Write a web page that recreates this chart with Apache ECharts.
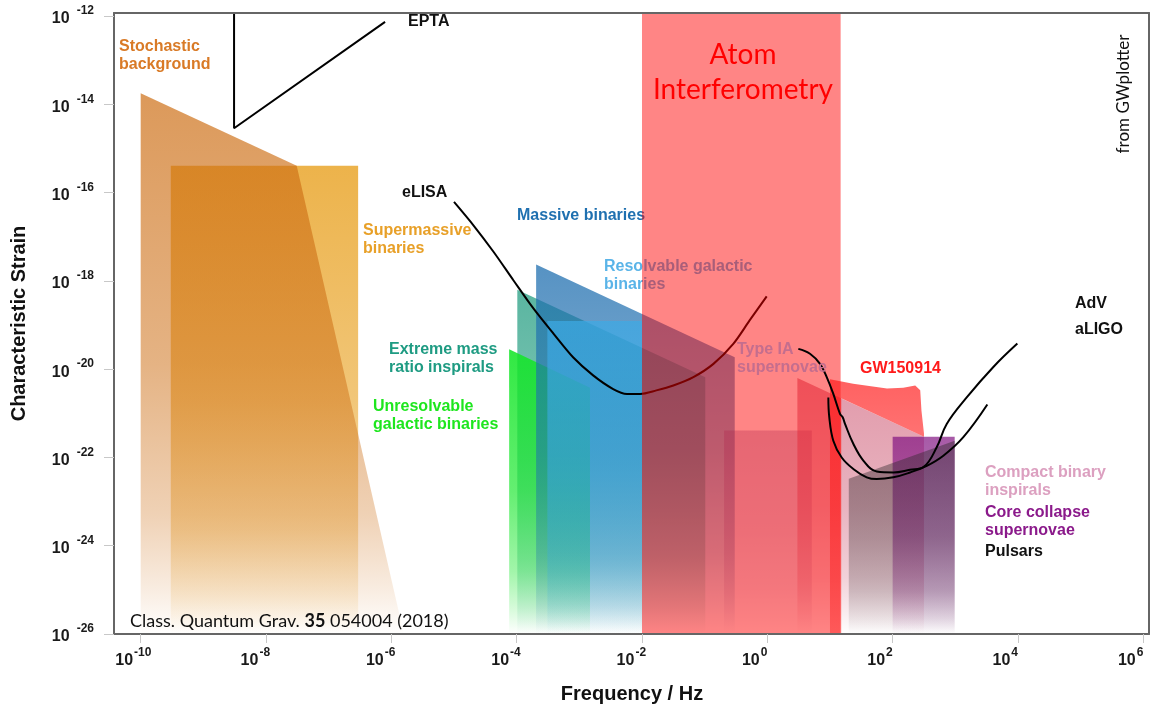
<!DOCTYPE html>
<html><head><meta charset="utf-8">
<script src="https://cdn.jsdelivr.net/npm/echarts@6/dist/echarts.min.js"></script>
<style>html,body{margin:0;padding:0;background:#fff}#c{width:1159px;height:708px}</style>
</head><body><div id="c"></div>
<script>
// ---- axes (log10 values) ----
const xTicks = [-10, -8, -6, -4, -2, 0, 2, 4, 6];
const yTicks = [-26, -24, -22, -20, -18, -16, -14, -12];
const xRange = [-10.426, 6.091];
const yRange = [-26, -11.93];

// ---- source regions: vertices as [log10 f/Hz, log10 h_c] ----
const stochasticBackground = [[-10, -13.75], [-7.51, -15.39], [-5.8, -26], [-10, -26]];
const supermassiveBinaries = [[-9.52, -15.39], [-6.53, -15.39], [-6.53, -26], [-9.52, -26]];
const extremeMassRatio = [[-3.99, -18.20], [-0.99, -20.18], [-0.99, -26], [-3.99, -26]];
const unresolvableGalactic = [[-4.12, -19.55], [-2.83, -20.42], [-2.83, -26], [-4.12, -26]];
const massiveBinaries = [[-3.69, -17.63], [-0.52, -19.73], [-0.52, -26], [-3.69, -26]];
const resolvableGalactic = [[-3.51, -18.91], [-2.0, -18.91], [-2.0, -26], [-3.51, -26]];
const typeIASupernovae = [[-0.69, -21.39], [0.71, -21.39], [0.71, -26], [-0.69, -26]];
const compactBinaries = [[0.48, -20.20], [2.50, -21.53], [2.50, -26], [0.48, -26]];
const gw150914 = [[1.00, -20.23], [1.37, -20.33], [1.91, -20.44], [2.17, -20.42], [2.36, -20.37], [2.44, -20.48], [2.46, -20.94], [2.50, -21.46], [2.50, -21.53], [1.18, -20.66], [1.18, -26], [1.00, -26]];
const coreCollapse = [[2.0, -21.53], [2.99, -21.53], [2.99, -26], [2.0, -26]];
const pulsars = [[1.30, -22.48], [2.99, -21.62], [2.99, -26], [1.30, -26]];
const atomInterferometry = [[-2.0, -11.93], [1.17, -11.93], [1.17, -26], [-2.0, -26]];

// ---- detector curves ----
const epta = [[-8.51, -11.93], [-8.51, -14.54], [-6.10, -12.13]];
const eLISA = [[-5.00, -16.21], [-4.69, -16.74], [-4.37, -17.34], [-4.05, -17.99], [-3.73, -18.63], [-3.41, -19.20], [-3.10, -19.73], [-2.78, -20.14], [-2.46, -20.45], [-2.24, -20.56], [-2.03, -20.56], [-1.77, -20.48], [-1.50, -20.37], [-1.18, -20.18], [-0.86, -19.88], [-0.54, -19.42], [-0.28, -18.89], [-0.01, -18.35]];
const advCurve = [[0.495, -19.54], [0.681, -19.65], [0.841, -19.88], [0.948, -20.18], [1.053, -20.56], [1.160, -21.01], [1.203, -21.09], [1.240, -21.24], [1.372, -21.69], [1.532, -22.07], [1.746, -22.32], [2.011, -22.34], [2.277, -22.28], [2.490, -22.22], [2.703, -21.77], [2.863, -21.24], [3.182, -20.64], [3.607, -19.95], [3.990, -19.42]];
const aligoCurve = [[0.974, -20.64], [0.989, -21.09], [1.053, -21.62], [1.187, -22.00], [1.372, -22.26], [1.586, -22.45], [1.746, -22.49], [2.011, -22.45], [2.277, -22.34], [2.544, -22.19], [2.809, -21.96], [3.128, -21.54], [3.511, -20.80]];

const FONT = '"Liberation Sans", Arial, Helvetica, sans-serif';
const SOFT = 'Lato, "Open Sans", sans-serif';
const chart = echarts.init(document.getElementById('c'), null, {renderer: 'canvas'});

function fade(rgb, a) {
  return new echarts.graphic.LinearGradient(0, 0, 0, 1, [
    {offset: 0, color: `rgba(${rgb},${a})`},
    {offset: 0.5, color: `rgba(${rgb},${a * 0.75})`},
    {offset: 0.78, color: `rgba(${rgb},${a * 0.45})`},
    {offset: 0.92, color: `rgba(${rgb},${a * 0.18})`},
    {offset: 1, color: `rgba(${rgb},0)`}
  ]);
}
function area(name, pts, fill, z) {
  return {
    type: 'custom', name, z, silent: true, clip: true,
    coordinateSystem: 'cartesian2d', xAxisIndex: 0, yAxisIndex: 0,
    data: [pts[0]],
    renderItem: (params, api) => ({
      type: 'polygon',
      shape: {points: pts.map(p => api.coord(p))},
      style: {fill}
    })
  };
}
function curve(name, pts, z, smooth) {
  return {type: 'line', name, data: pts, z, smooth, symbol: 'none', silent: true, clip: true,
    lineStyle: {color: '#000', width: 2}};
}
function label(text, x, y, color, z, opts) {
  return Object.assign({
    type: 'text', x, y, z, silent: true,
    style: {text, fill: color, font: 'bold 16px ' + FONT, align: 'left', verticalAlign: 'middle',
      textAlign: 'left', textVerticalAlign: 'middle', lineHeight: 18}
  }, opts || {});
}

const tickRichX = {
  b: {fontSize: 16, fontWeight: 'bold', fontFamily: FONT, color: '#1a1a1a', lineHeight: 22, verticalAlign: 'bottom', align: 'left'},
  s: {fontSize: 12, fontWeight: 'bold', fontFamily: FONT, color: '#1a1a1a', lineHeight: 12, verticalAlign: 'top', width: 32, align: 'left', padding: [0, 0, 0, 1]}
};
const tickRichY = {
  b: {fontSize: 16, fontWeight: 'bold', fontFamily: FONT, color: '#1a1a1a', lineHeight: 22, verticalAlign: 'bottom'},
  s: {fontSize: 12, fontWeight: 'bold', fontFamily: FONT, color: '#1a1a1a', lineHeight: 12, verticalAlign: 'top', padding: [0, 0, 0, 7]}
};

const gwFill = new echarts.graphic.LinearGradient(0, 0, 0, 1, [
  {offset: 0, color: 'rgba(255,30,30,0.7)'},
  {offset: 0.3, color: 'rgba(255,30,30,0.6)'},
  {offset: 1, color: 'rgba(255,30,30,0.42)'}
]);

const option = {
  animation: false,
  backgroundColor: '#fff',
  grid: {left: 114, right: 10, top: 13, bottom: 74, show: false, containLabel: false, outerBoundsMode: 'none'},
  xAxis: [{
    type: 'value', min: xRange[0], max: xRange[1], z: 10,
    splitLine: {show: false},
    axisLine: {show: true, onZero: false, lineStyle: {color: '#666', width: 2}},
    axisTick: {show: true, customValues: xTicks, length: 9, lineStyle: {color: '#c8c8c8', width: 1}},
    axisLabel: {customValues: xTicks, margin: 13, hideOverlap: false, formatter: v => '{b|10}{s|' + v + '}', rich: tickRichX}
  }, {
    type: 'value', position: 'top', min: xRange[0], max: xRange[1], z: 10,
    splitLine: {show: false}, axisTick: {show: false}, axisLabel: {show: false},
    axisLine: {show: true, onZero: false, lineStyle: {color: '#666', width: 2}}
  }],
  yAxis: [{
    type: 'value', min: yRange[0], max: yRange[1], z: 10,
    splitLine: {show: false},
    axisLine: {show: true, onZero: false, lineStyle: {color: '#666', width: 2}},
    axisTick: {show: true, customValues: yTicks, length: 10, lineStyle: {color: '#c8c8c8', width: 1}},
    axisLabel: {customValues: yTicks, margin: 20, formatter: v => '{b|10}{s|' + v + '}', rich: tickRichY}
  }, {
    type: 'value', position: 'right', min: yRange[0], max: yRange[1], z: 10,
    splitLine: {show: false}, axisTick: {show: false}, axisLabel: {show: false},
    axisLine: {show: true, onZero: false, lineStyle: {color: '#666', width: 2}}
  }],
  series: [
    area('Supermassive binaries', supermassiveBinaries, fade('232,160,30', 0.8), 1),
    area('Stochastic background', stochasticBackground, fade('205,110,20', 0.7), 1),
    area('Extreme mass ratio inspirals', extremeMassRatio, fade('20,150,120', 0.7), 1),
    area('Unresolvable galactic binaries', unresolvableGalactic, fade('20,230,40', 0.88), 1),
    area('Massive binaries', massiveBinaries, fade('30,110,175', 0.75), 1),
    area('Resolvable galactic binaries', resolvableGalactic, fade('60,170,230', 0.7), 1),
    area('Type IA supernovae', typeIASupernovae, fade('100,60,140', 0.3), 1),
    area('Compact binary inspirals', compactBinaries, fade('200,70,100', 0.55), 1),
    area('Core collapse supernovae', coreCollapse, fade('130,20,130', 0.7), 1),
    area('Pulsars', pulsars, fade('50,40,45', 0.45), 1),
    curve('eLISA', eLISA, 2, 0.3),
    area('Atom Interferometry', atomInterferometry, 'rgba(255,0,0,0.48)', 3),
    area('GW150914', gw150914, gwFill, 4),
    curve('EPTA', epta, 5, false),
    curve('AdV', advCurve, 5, 0.4),
    curve('aLIGO', aligoCurve, 5, 0.4)
  ],
  graphic: [
    label('Stochastic\nbackground', 119, 56, '#d97a26', 2),
    label('EPTA', 408, 22, '#111', 6),
    label('Supermassive\nbinaries', 363, 239.5, '#e8a028', 2),
    label('eLISA', 402, 193, '#111', 6),
    label('Massive binaries', 517, 216, '#1f70b0', 2),
    label('Resolvable galactic\nbinaries', 604, 276, '#5ab4e8', 2),
    label('Extreme mass\nratio inspirals', 389, 358.5, '#1e9b82', 2),
    label('Unresolvable\ngalactic binaries', 373, 416, '#1ee61e', 2),
    label('Type IA\nsupernovae', 737, 359, '#c46e8e', 6),
    label('GW150914', 860, 369, '#ff1a1a', 6),
    label('AdV', 1075, 304, '#111', 6),
    label('aLIGO', 1075, 330, '#111', 6),
    label('Compact binary\ninspirals', 985, 482, '#dca0c0', 6),
    label('Core collapse\nsupernovae', 985, 521.5, '#8b1a8b', 6),
    label('Pulsars', 985, 552, '#111', 6),
    {type: 'text', x: 743, y: 72, z: 6, silent: true,
      style: {text: 'Atom\nInterferometry', fill: '#ff0000', font: '28px ' + SOFT,
        align: 'center', verticalAlign: 'middle', textAlign: 'center', textVerticalAlign: 'middle', lineHeight: 35}},
    {type: 'text', x: 1124, y: 94, z: 6, rotation: Math.PI / 2, silent: true,
      style: {text: 'from GWplotter', fill: '#111', font: '17px ' + SOFT,
        align: 'center', verticalAlign: 'middle', textAlign: 'center', textVerticalAlign: 'middle'}},
    {type: 'text', x: 130, y: 621, z: 6, silent: true,
      style: {text: '{n|Class. Quantum Grav. }{k|35}{n| 054004 (2018)}', align: 'left', verticalAlign: 'middle',
        textAlign: 'left', textVerticalAlign: 'middle',
        rich: {n: {fontSize: 18, fontFamily: SOFT, fill: '#111', color: '#111'},
               k: {fontSize: 18, fontWeight: 'bold', fontFamily: SOFT, fill: '#111', color: '#111'}}}},
    {type: 'text', x: 19.5, y: 323.5, z: 6, rotation: Math.PI / 2, silent: true,
      style: {text: 'Characteristic Strain', fill: '#111', font: 'bold 20px ' + FONT,
        align: 'center', verticalAlign: 'middle', textAlign: 'center', textVerticalAlign: 'middle'}},
    {type: 'text', x: 632, y: 694, z: 6, silent: true,
      style: {text: 'Frequency / Hz', fill: '#111', font: 'bold 20px ' + FONT,
        align: 'center', verticalAlign: 'middle', textAlign: 'center', textVerticalAlign: 'middle'}}
  ]
};
chart.setOption(option);
</script></body></html>
